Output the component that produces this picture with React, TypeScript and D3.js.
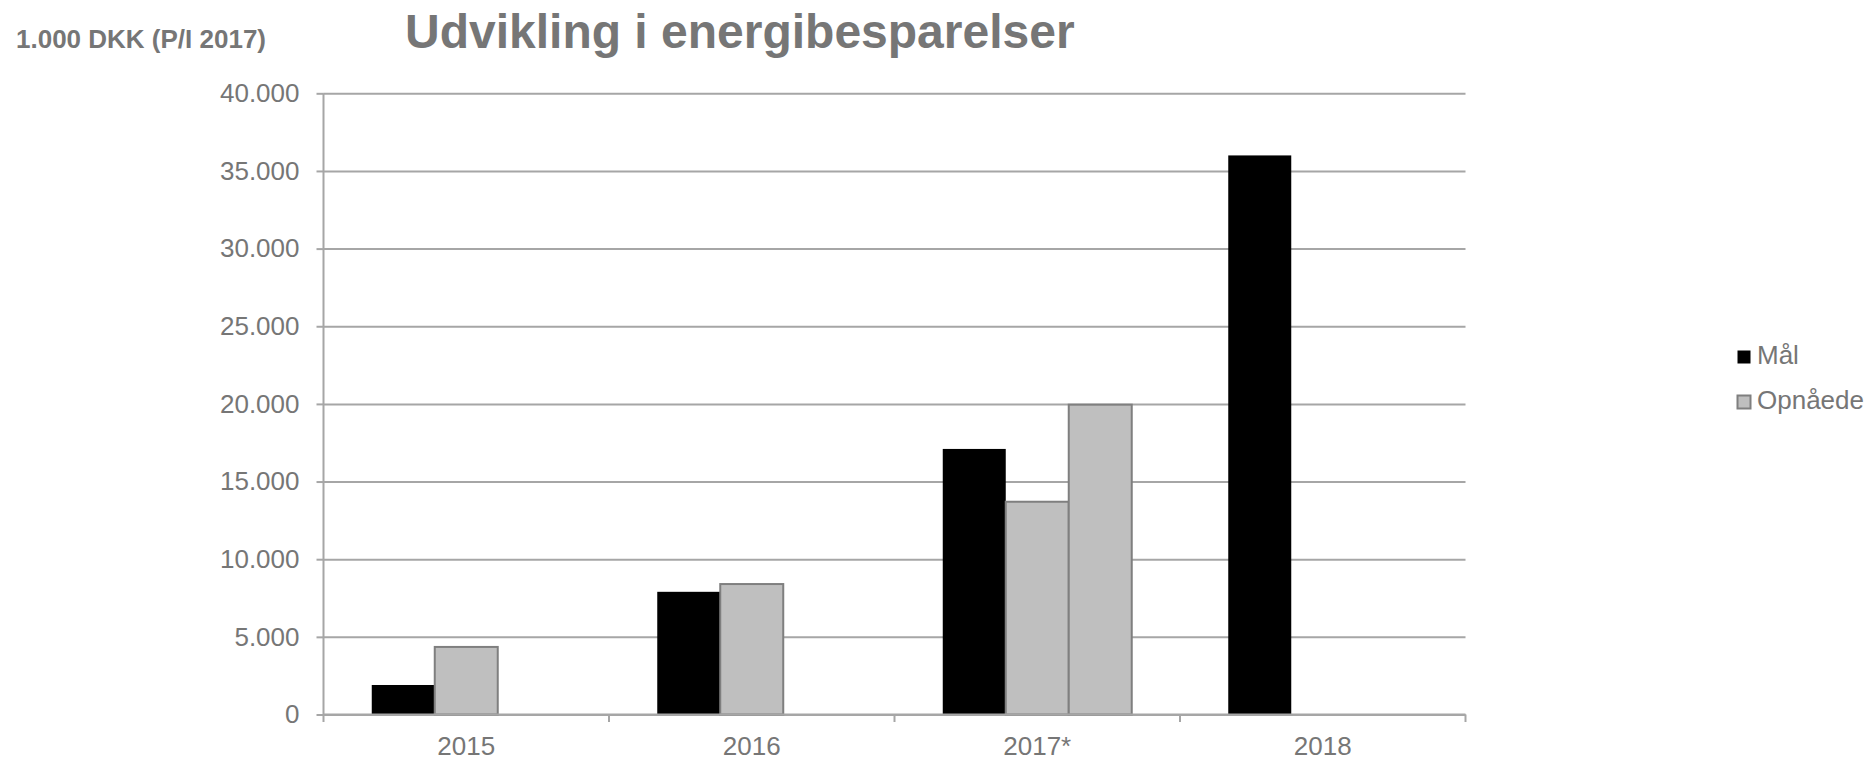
import React, { useEffect, useRef } from 'react';
import * as d3 from 'd3';

const categories = ['2015', '2016', '2017*', '2018'];
const seriesKeys = ['maal', 'opnaaede', 'opnaaede2'];
const maalValues = [1900, 7900, 17100, 36000];
const opnaaedeValues = [4350, 8400, 13700, null];
const opnaaede2Values = [null, null, 19950, null];
const yTicks = [0, 5000, 10000, 15000, 20000, 25000, 30000, 35000, 40000];
const legendLabels = ['Mål', 'Opnåede'];

const textColor = '#767676';
const gridColor = '#a6a6a6';

function App() {
  const ref = useRef<SVGSVGElement>(null);

  useEffect(() => {
    const svg = d3.select(ref.current);
    svg.selectAll('*').remove();
    const margin = { top: 93.3, left: 323.5 };
    const width = 1465.5 - margin.left;
    const height = 714.5 - margin.top;
    const font = '"Liberation Sans", Arial, sans-serif';

    const g = svg.append('g')
      .attr('transform', 'translate(' + margin.left + ',' + margin.top + ')');

    const x = d3.scaleBand<string>().domain(categories).range([0, width]).padding(0);
    const xs = d3.scaleBand<string>().domain(seriesKeys)
      .range([0, x.bandwidth()]).paddingInner(0).paddingOuter(0.766);
    const y = d3.scaleLinear().domain([0, 40000]).range([height, 0]);

    // gridlines
    g.append('g')
      .call(d3.axisLeft(y).tickValues(yTicks).tickSize(-width).tickFormat(() => ''))
      .call(s => s.select('.domain').remove())
      .selectAll('line').attr('stroke', gridColor).attr('stroke-width', 2);

    // y axis with ticks + labels
    const fmt = (v: number) => d3.format(',')(v).replace(/,/g, '.');
    g.append('g')
      .call(d3.axisLeft(y).tickValues(yTicks).tickSize(7).tickPadding(17).tickFormat(d => fmt(+d)))
      .call(s => s.select('.domain').attr('stroke', gridColor).attr('stroke-width', 2)
        .attr('d', 'M0,0V' + (height + 7.5)))
      .call(s => s.selectAll('line').attr('stroke', gridColor).attr('stroke-width', 2))
      .call(s => s.selectAll('text').attr('fill', textColor).attr('font-size', 26).attr('font-family', font));

    // bars
    const series = [
      { key: 'maal', values: maalValues, fill: '#000000', stroke: 'none' },
      { key: 'opnaaede', values: opnaaedeValues, fill: '#bfbfbf', stroke: '#7f7f7f' },
      { key: 'opnaaede2', values: opnaaede2Values, fill: '#bfbfbf', stroke: '#7f7f7f' },
    ];
    series.forEach(s => {
      const data = categories.map((c, i) => ({ c, v: s.values[i] })).filter(d => d.v != null);
      g.append('g').selectAll('rect').data(data).join('rect')
        .attr('x', d => (x(d.c) as number) + (xs(s.key) as number))
        .attr('y', d => y(d.v as number))
        .attr('width', xs.bandwidth())
        .attr('height', d => height - y(d.v as number))
        .attr('fill', s.fill)
        .attr('stroke', s.stroke)
        .attr('stroke-width', 2);
    });

    // x axis line + boundary ticks
    const xAxis = g.append('g').attr('transform', 'translate(0,' + height + ')');
    xAxis.append('line').attr('x1', 0).attr('x2', width).attr('y1', 0).attr('y2', 0)
      .attr('stroke', gridColor).attr('stroke-width', 2);
    xAxis.selectAll('line.tick').data(categories.slice(1).concat(['__end'])).join('line')
      .attr('class', 'tick')
      .attr('x1', d => d === '__end' ? width : (x(d) as number))
      .attr('x2', d => d === '__end' ? width : (x(d) as number))
      .attr('y1', 0).attr('y2', 7.5)
      .attr('stroke', gridColor).attr('stroke-width', 2);
    xAxis.append('g')
      .call(d3.axisBottom(x).tickSize(0).tickPadding(22))
      .call(s => s.select('.domain').remove())
      .call(s => s.selectAll('text').attr('fill', textColor).attr('font-size', 26).attr('font-family', font));

    // titles
    svg.append('text').attr('x', 16).attr('y', 48)
      .attr('font-family', font).attr('font-weight', 'bold').attr('font-size', 26)
      .attr('fill', textColor).text('1.000 DKK (P/I 2017)');
    svg.append('text').attr('x', 405).attr('y', 48)
      .attr('font-family', font).attr('font-weight', 'bold').attr('font-size', 48)
      .attr('fill', textColor).text('Udvikling i energibesparelser');

    // legend
    const legend = svg.append('g').attr('transform', 'translate(1737,350)');
    const legendStyles = [
      { fill: '#000000', stroke: 'none' },
      { fill: '#bfbfbf', stroke: '#7f7f7f' },
    ];
    legendLabels.forEach((label, i) => {
      const row = legend.append('g').attr('transform', 'translate(0,' + i * 45 + ')');
      row.append('rect').attr('x', 0.5).attr('y', 0.5).attr('width', 13).attr('height', 13)
        .attr('fill', legendStyles[i].fill).attr('stroke', legendStyles[i].stroke).attr('stroke-width', 2);
      row.append('text').attr('x', 20).attr('y', 14)
        .attr('font-family', font).attr('font-size', 26).attr('fill', textColor).text(label);
    });
  }, []);

  return (
    <svg ref={ref} width="1875" height="760"
      style={{ position: 'absolute', left: 0, top: 0, background: '#fff' }} />
  );
}

export default App;
